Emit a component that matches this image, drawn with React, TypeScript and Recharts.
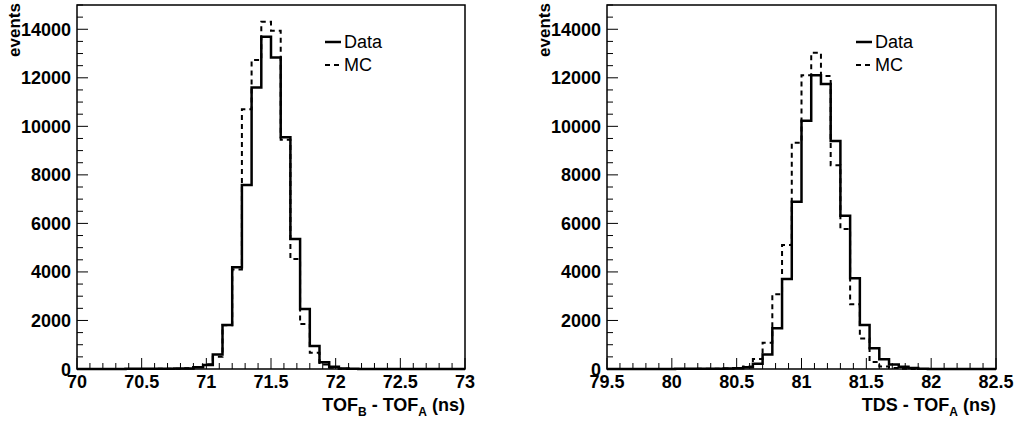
import React from 'react';
import { ComposedChart, Line, XAxis, YAxis, ReferenceArea, Legend } from 'recharts';

const FONT = '"Liberation Sans", Arial, Helvetica, sans-serif';

// 40 bins of 0.075 ns per histogram
const BIN_WIDTH = 0.075;
const tofStart = 70;
const tdsStart = 79.5;

// TOF_B - TOF_A histogram (counts per bin)
const tofData = [
  5, 5, 5, 5, 5, 10, 10, 10, 15, 15,
  20, 25, 70, 160, 600, 1810, 4190, 7580, 11600, 13690,
  12840, 9550, 5360, 2470, 950, 275, 95, 25, 10, 5,
  5, 5, 5, 0, 0, 0, 0, 0, 0, 0,
];
const tofMC = [
  0, 0, 0, 0, 0, 5, 5, 5, 10, 10,
  15, 30, 80, 200, 500, 1800, 4100, 10700, 12730, 14310,
  13940, 9450, 4530, 1850, 670, 190, 50, 15, 5, 5,
  0, 0, 0, 0, 0, 0, 0, 0, 0, 0,
];

// TDS - TOF_A histogram (counts per bin)
const tdsData = [
  5, 5, 5, 5, 5, 5, 5, 10, 10, 10,
  15, 15, 20, 35, 70, 215, 600, 1680, 3710, 6890,
  10230, 12110, 11740, 9400, 6320, 3740, 1810, 860, 400, 190,
  95, 40, 15, 5, 5, 0, 0, 0, 0, 0,
];
const tdsMC = [
  0, 0, 0, 0, 0, 0, 5, 5, 5, 10,
  10, 15, 20, 40, 100, 410, 1085, 3080, 5110, 9325,
  12110, 13030, 12070, 8400, 5770, 2665, 1260, 290, 100, 40,
  15, 5, 0, 0, 0, 0, 0, 0, 0, 0,
];

const tofMajorTicks = [70, 70.5, 71, 71.5, 72, 72.5, 73];
const tdsMajorTicks = [79.5, 80, 80.5, 81, 81.5, 82, 82.5];
const yMajorTicks = [0, 2000, 4000, 6000, 8000, 10000, 12000, 14000];
const Y_MAX = 15000;

const toRows = (start: number, data: number[], mc: number[]) => {
  const rows = data.map((d, i) => ({ x: +(start + i * BIN_WIDTH).toFixed(3), data: d, mc: mc[i] }));
  rows.push({ x: +(start + data.length * BIN_WIDTH).toFixed(3), data: data[data.length - 1], mc: mc[mc.length - 1] });
  return rows;
};

const minorX = (majors: number[]) => {
  const out: number[] = [];
  const lo = majors[0];
  const n = Math.round((majors[majors.length - 1] - lo) * 10);
  for (let i = 0; i <= n; i++) out.push(Math.round((lo + i * 0.1) * 10) / 10);
  return out;
};

const minorY: number[] = [];
for (let v = 0; v <= Y_MAX; v += 500) minorY.push(v);

const XTick = (props: any) => {
  const { x, y, payload, majors } = props;
  const v = payload.value;
  const major = majors.some((m: number) => Math.abs(m - v) < 1e-6);
  return (
    <g>
      <line x1={x} x2={x} y1={y} y2={y - (major ? 11 : 6)} stroke="#000" strokeWidth={1} />
      {major && (
        <text x={x} y={y + 19} textAnchor="middle" fontFamily={FONT} fontSize={18} fontWeight="bold" fill="#000">
          {String(v)}
        </text>
      )}
    </g>
  );
};

const YTick = (props: any) => {
  const { x, y, payload } = props;
  const v = payload.value;
  const major = yMajorTicks.includes(v);
  return (
    <g>
      <line x1={x} x2={x + (major ? 11 : 6)} y1={y} y2={y} stroke="#000" strokeWidth={1} />
      {major && (
        <text x={x - 6} y={y + 6.5} textAnchor="end" fontFamily={FONT} fontSize={18} fontWeight="bold" fill="#000">
          {String(v)}
        </text>
      )}
    </g>
  );
};

const LegendBox = () => (
  <svg width={80} height={50} style={{ display: 'block' }}>
    <line x1={0} x2={16} y1={14} y2={14} stroke="#000" strokeWidth={2.5} />
    <text x={19} y={20} fontFamily={FONT} fontSize={18} fill="#000">Data</text>
    <line x1={0} x2={16} y1={37} y2={37} stroke="#000" strokeWidth={2} strokeDasharray="5 4" />
    <text x={19} y={43} fontFamily={FONT} fontSize={18} fill="#000">MC</text>
  </svg>
);

type PanelProps = {
  width: number;
  yAxisWidth: number;
  marginRight: number;
  start: number;
  majors: number[];
  data: number[];
  mc: number[];
  titleHead: string;
  titleSub1?: string;
  eventsX: number;
  legendLeft: number;
};

const HEIGHT = 421;

const Panel = ({ width, yAxisWidth, marginRight, start, majors, data, mc, titleHead, titleSub1, eventsX, legendLeft }: PanelProps) => {
  const rows = toRows(start, data, mc);
  const end = majors[majors.length - 1];
  return (
    <ComposedChart width={width} height={HEIGHT} data={rows} margin={{ top: 5, right: marginRight, bottom: 0, left: 0 }}>
      <XAxis
        dataKey="x"
        type="number"
        domain={[start, end]}
        ticks={minorX(majors)}
        interval={0}
        tickSize={0}
        tickMargin={0}
        tickLine={false}
        axisLine={false}
        height={52}
        tick={<XTick majors={majors} />}
        label={{
          content: (p: any) => {
            const vb = p.viewBox;
            return (
              <text x={vb.x + vb.width} y={vb.y + 42} textAnchor="end" fontFamily={FONT} fontSize={18} fontWeight="bold" fill="#000">
                {titleHead}
                {titleSub1 && <tspan fontSize={12} dy={5}>{titleSub1}</tspan>}
                <tspan dy={titleSub1 ? -5 : 0}> - TOF</tspan>
                <tspan fontSize={12} dy={5}>A</tspan>
                <tspan dy={-5}> (ns)</tspan>
              </text>
            );
          },
        }}
      />
      <YAxis
        type="number"
        domain={[0, Y_MAX]}
        ticks={minorY}
        interval={0}
        tickSize={0}
        tickMargin={0}
        tickLine={false}
        axisLine={false}
        width={yAxisWidth}
        tick={<YTick />}
        label={{
          content: () => (
            <text
              x={eventsX}
              y={3}
              transform={`rotate(-90 ${eventsX} 3)`}
              textAnchor="end"
              fontFamily={FONT}
              fontSize={17}
              fontWeight="bold"
              fill="#000"
            >
              events
            </text>
          ),
        }}
      />
      <ReferenceArea x1={start} x2={end} y1={0} y2={Y_MAX} fill="none" stroke="#000" strokeWidth={1.5} />
      <Legend
        layout="vertical"
        align="center"
        verticalAlign="middle"
        content={() => <LegendBox />}
        wrapperStyle={{ left: legendLeft, top: 28, width: 80, height: 50, margin: 0 }}
      />
      <Line dataKey="mc" name="MC" type="stepAfter" stroke="#000" strokeWidth={2} strokeDasharray="5 4" dot={false} isAnimationActive={false} />
      <Line dataKey="data" name="Data" type="stepAfter" stroke="#000" strokeWidth={2.5} dot={false} isAnimationActive={false} />
    </ComposedChart>
  );
};

const App = () => (
  <div style={{ position: 'absolute', left: 0, top: 0, width: 1019, height: 421, background: '#fff' }}>
    <div style={{ position: 'absolute', left: 0, top: 0 }}>
      <Panel
        width={510}
        yAxisWidth={77}
        marginRight={45}
        start={tofStart}
        majors={tofMajorTicks}
        data={tofData}
        mc={tofMC}
        titleHead="TOF"
        titleSub1="B"
        eventsX={20}
        legendLeft={325}
      />
    </div>
    <div style={{ position: 'absolute', left: 510, top: 0 }}>
      <Panel
        width={509}
        yAxisWidth={97}
        marginRight={23}
        start={tdsStart}
        majors={tdsMajorTicks}
        data={tdsData}
        mc={tdsMC}
        titleHead="TDS"
        eventsX={40}
        legendLeft={346}
      />
    </div>
  </div>
);

export default App;
